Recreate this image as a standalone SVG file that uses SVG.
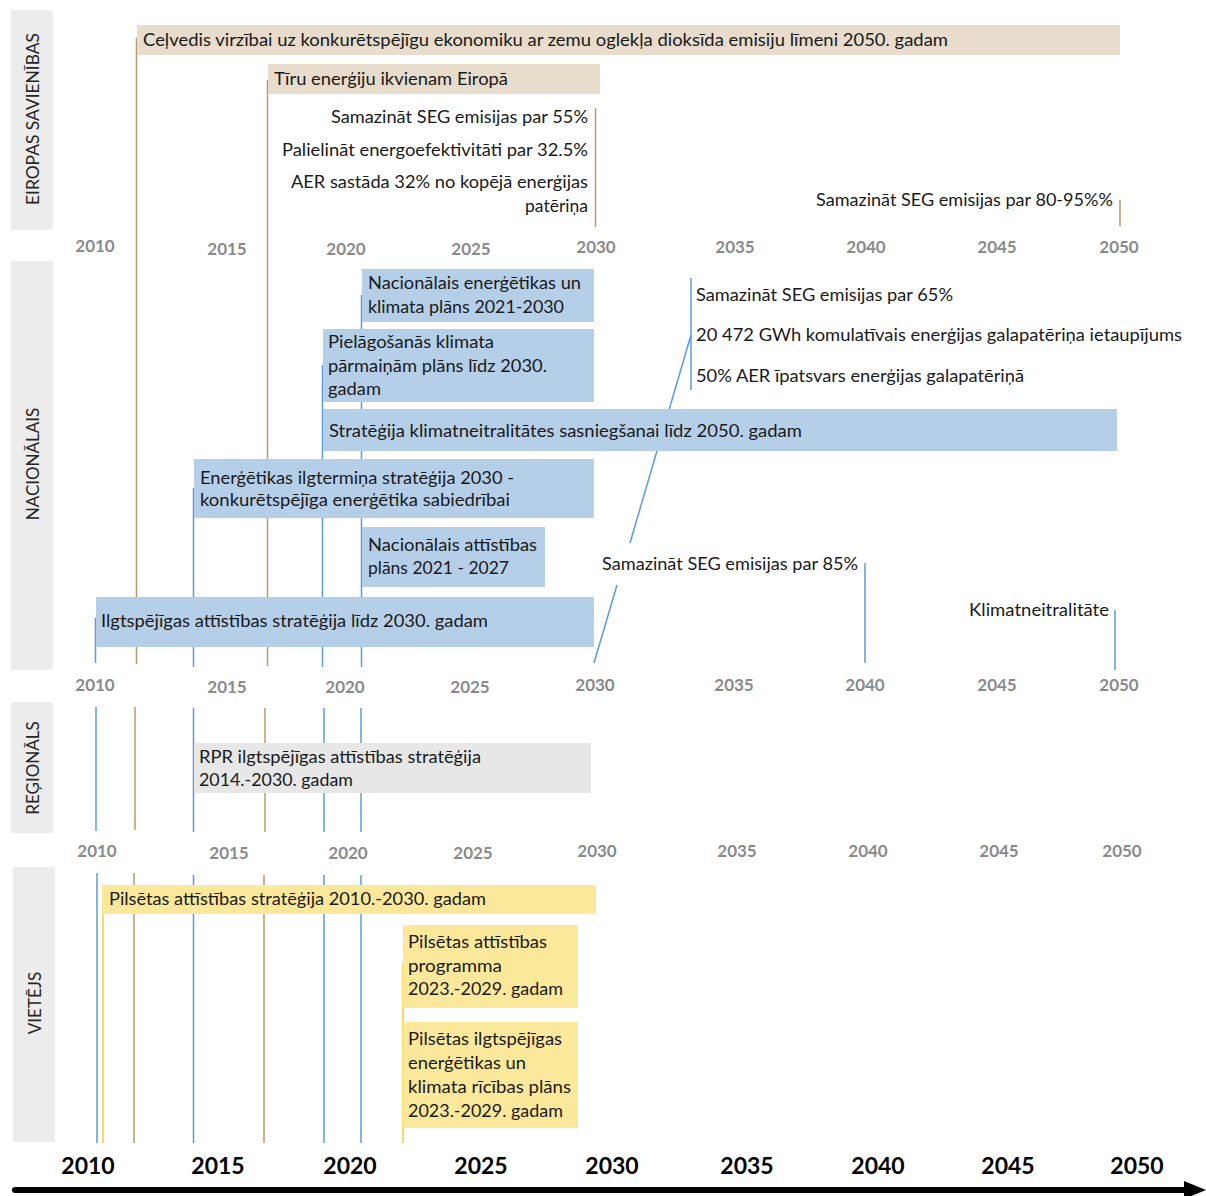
<svg xmlns="http://www.w3.org/2000/svg" width="1206" height="1196" viewBox="0 0 1206 1196">
<style>
.bg{fill:#ffffff}
.lab{fill:#ececec}
.eu{fill:#e8dccd}
.nat{fill:#b5cfe9}
.reg{fill:#e7e7e7}
.loc{fill:#fce89b}
.t{font-family:Lato,"Liberation Sans",sans-serif;font-size:17.5px;fill:#1a1a1a}
.e{text-anchor:end}
.side{font-family:Lato,"Liberation Sans",sans-serif;font-size:17px;fill:#262626;text-anchor:middle}
.yr{font-family:Lato,"Liberation Sans",sans-serif;font-size:17px;font-weight:bold;fill:#8a8a8a;text-anchor:middle}
.yb{font-family:Lato,"Liberation Sans",sans-serif;font-size:23px;font-weight:bold;fill:#000;text-anchor:middle}
.br{stroke:#b89b6e;stroke-width:1.5;fill:none}
.bl{stroke:#5b9bd5;stroke-width:1.5;fill:none}
.yl{stroke:#f0cf3a;stroke-width:1.5;fill:none}
</style>
<rect class="bg" x="0" y="0" width="1206" height="1196"/>

<!-- level labels -->
<g id="level-eu"><rect class="lab" x="11" y="10" width="42" height="220"/><text class="side" transform="translate(39,119) rotate(-90)" textLength="172" lengthAdjust="spacingAndGlyphs">EIROPAS SAVIENĪBAS</text></g>
<g id="level-nat"><rect class="lab" x="11" y="261" width="42" height="409"/><text class="side" transform="translate(39,464) rotate(-90)">NACIONĀLAIS</text></g>
<g id="level-reg"><rect class="lab" x="11" y="702" width="42" height="131"/><text class="side" transform="translate(39,768) rotate(-90)">REĢIONĀLS</text></g>
<g id="level-loc"><rect class="lab" x="13" y="867" width="42" height="275"/><text class="side" transform="translate(41,1003) rotate(-90)">VIETĒJS</text></g>

<!-- connectors -->
<g id="connectors">
  <line class="br" x1="136.5" y1="38" x2="136.5" y2="664"/>
  <line class="br" x1="267.5" y1="80" x2="267.5" y2="666"/>
  <line class="br" x1="595.5" y1="108" x2="595.5" y2="227"/>
  <line class="br" x1="1120" y1="200" x2="1120" y2="226"/>
  <line class="bl" x1="95.5" y1="618" x2="95.5" y2="663"/>
  <line class="bl" x1="193.5" y1="488" x2="193.5" y2="667"/>
  <line class="bl" x1="322.5" y1="365" x2="322.5" y2="667"/>
  <line class="bl" x1="361.5" y1="295" x2="361.5" y2="667"/>
  <line class="bl" x1="691" y1="278" x2="691" y2="390"/>
  <line class="bl" x1="865" y1="563" x2="865" y2="663"/>
  <line class="bl" x1="1115" y1="610" x2="1115" y2="670"/>
  <line class="bl" x1="594" y1="663" x2="617" y2="585"/>
  <line class="bl" x1="630" y1="543" x2="691" y2="335"/>
  <!-- regional -->
  <line class="bl" x1="96" y1="707" x2="96" y2="831"/>
  <line class="br" x1="135" y1="707" x2="135" y2="830"/>
  <line class="bl" x1="193.5" y1="708" x2="193.5" y2="832"/>
  <line class="br" x1="265" y1="708" x2="265" y2="832"/>
  <line class="bl" x1="324" y1="708" x2="324" y2="832"/>
  <line class="bl" x1="361" y1="708" x2="361" y2="832"/>
  <!-- local -->
  <line class="bl" x1="97" y1="873" x2="97" y2="1143"/>
  <line class="yl" x1="103" y1="900" x2="103" y2="1143"/>
  <line class="br" x1="134" y1="873" x2="134" y2="1143"/>
  <line class="bl" x1="193.5" y1="875" x2="193.5" y2="1143"/>
  <line class="br" x1="264" y1="875" x2="264" y2="1143"/>
  <line class="bl" x1="324" y1="875" x2="324" y2="1143"/>
  <line class="bl" x1="361" y1="875" x2="361" y2="1143"/>
  <line class="yl" x1="403" y1="963" x2="403" y2="1143"/>
</g>

<!-- EU nodes -->
<g id="eu-roadmap"><rect class="eu" x="137" y="25" width="983" height="30"/><text class="t" x="143" y="46" textLength="805" lengthAdjust="spacingAndGlyphs">Ceļvedis virzībai uz konkurētspējīgu ekonomiku ar zemu oglekļa dioksīda emisiju līmeni 2050. gadam</text></g>
<g id="eu-clean"><rect class="eu" x="268" y="64" width="332" height="30"/><text class="t" x="274" y="85" textLength="234" lengthAdjust="spacingAndGlyphs">Tīru enerģiju ikvienam Eiropā</text></g>
<g id="eu-2030-targets">
  <text class="t e" x="588" y="123" textLength="257" lengthAdjust="spacingAndGlyphs">Samazināt SEG emisijas par 55%</text>
  <text class="t e" x="588" y="156" textLength="306" lengthAdjust="spacingAndGlyphs">Palielināt energoefektivitāti par 32.5%</text>
  <text class="t e" x="588" y="188" textLength="297" lengthAdjust="spacingAndGlyphs">AER sastāda 32% no kopējā enerģijas</text>
  <text class="t e" x="588" y="212" textLength="63" lengthAdjust="spacingAndGlyphs">patēriņa</text>
</g>
<g id="eu-2050-target"><text class="t e" x="1113" y="206" textLength="297" lengthAdjust="spacingAndGlyphs">Samazināt SEG emisijas par 80-95%%</text></g>

<!-- National nodes -->
<g id="nat-nekp"><rect class="nat" x="362" y="269" width="232" height="53"/>
  <text class="t" x="368" y="289" textLength="213" lengthAdjust="spacingAndGlyphs">Nacionālais enerģētikas un</text>
  <text class="t" x="368" y="313" textLength="196" lengthAdjust="spacingAndGlyphs">klimata plāns 2021-2030</text></g>
<g id="nat-adapt"><rect class="nat" x="323" y="329" width="271" height="73"/>
  <text class="t" x="328" y="348" textLength="166" lengthAdjust="spacingAndGlyphs">Pielāgošanās klimata</text>
  <text class="t" x="328" y="372" textLength="219" lengthAdjust="spacingAndGlyphs">pārmaiņām plāns līdz 2030.</text>
  <text class="t" x="328" y="395" textLength="53" lengthAdjust="spacingAndGlyphs">gadam</text></g>
<g id="nat-neutral"><rect class="nat" x="323" y="409" width="794" height="42"/>
  <text class="t" x="329" y="437" textLength="473" lengthAdjust="spacingAndGlyphs">Stratēģija klimatneitralitātes sasniegšanai līdz 2050. gadam</text></g>
<g id="nat-energy"><rect class="nat" x="194" y="459" width="400" height="59"/>
  <text class="t" x="200" y="484" textLength="314" lengthAdjust="spacingAndGlyphs">Enerģētikas ilgtermiņa stratēģija 2030 -</text>
  <text class="t" x="200" y="506" textLength="310" lengthAdjust="spacingAndGlyphs">konkurētspējīga enerģētika sabiedrībai</text></g>
<g id="nat-ndp"><rect class="nat" x="362" y="527" width="183" height="60"/>
  <text class="t" x="368" y="551" textLength="169" lengthAdjust="spacingAndGlyphs">Nacionālais attīstības</text>
  <text class="t" x="368" y="574" textLength="141" lengthAdjust="spacingAndGlyphs">plāns 2021 - 2027</text></g>
<g id="nat-sustain"><rect class="nat" x="96" y="597" width="498" height="50"/>
  <text class="t" x="101" y="627" textLength="387" lengthAdjust="spacingAndGlyphs">Ilgtspējīgas attīstības stratēģija līdz 2030. gadam</text></g>
<g id="nat-2030-targets">
  <text class="t" x="696" y="301" textLength="257" lengthAdjust="spacingAndGlyphs">Samazināt SEG emisijas par 65%</text>
  <text class="t" x="696" y="341" textLength="486" lengthAdjust="spacingAndGlyphs">20 472 GWh komulatīvais enerģijas galapatēriņa ietaupījums</text>
  <text class="t" x="696" y="382" textLength="328" lengthAdjust="spacingAndGlyphs">50% AER īpatsvars enerģijas galapatēriņā</text></g>
<g id="nat-2040-target"><text class="t" x="602" y="570" textLength="256" lengthAdjust="spacingAndGlyphs">Samazināt SEG emisijas par 85%</text></g>
<g id="nat-2050-target"><text class="t e" x="1109" y="616" textLength="140" lengthAdjust="spacingAndGlyphs">Klimatneitralitāte</text></g>

<!-- Regional -->
<g id="reg-rpr"><rect class="reg" x="194" y="743" width="397" height="50"/>
  <text class="t" x="199" y="763" textLength="282" lengthAdjust="spacingAndGlyphs">RPR ilgtspējīgas attīstības stratēģija</text>
  <text class="t" x="199" y="786" textLength="154" lengthAdjust="spacingAndGlyphs">2014.-2030. gadam</text></g>

<!-- Local -->
<g id="loc-strategy"><rect class="loc" x="102" y="885" width="494" height="29"/>
  <text class="t" x="109" y="905" textLength="377" lengthAdjust="spacingAndGlyphs">Pilsētas attīstības stratēģija 2010.-2030. gadam</text></g>
<g id="loc-programme"><rect class="loc" x="403" y="925" width="175" height="83"/>
  <text class="t" x="408" y="948" textLength="139" lengthAdjust="spacingAndGlyphs">Pilsētas attīstības</text>
  <text class="t" x="408" y="972" textLength="94" lengthAdjust="spacingAndGlyphs">programma</text>
  <text class="t" x="408" y="995" textLength="155" lengthAdjust="spacingAndGlyphs">2023.-2029. gadam</text></g>
<g id="loc-secap"><rect class="loc" x="403" y="1022" width="175" height="106"/>
  <text class="t" x="408" y="1045" textLength="154" lengthAdjust="spacingAndGlyphs">Pilsētas ilgtspējīgas</text>
  <text class="t" x="408" y="1069" textLength="118" lengthAdjust="spacingAndGlyphs">enerģētikas un</text>
  <text class="t" x="408" y="1093" textLength="163" lengthAdjust="spacingAndGlyphs">klimata rīcības plāns</text>
  <text class="t" x="408" y="1117" textLength="155" lengthAdjust="spacingAndGlyphs">2023.-2029. gadam</text></g>

<!-- year rows -->
<g id="years-eu">
  <text class="yr" x="95" y="252">2010</text><text class="yr" x="227" y="255">2015</text><text class="yr" x="346" y="255">2020</text><text class="yr" x="471" y="255">2025</text><text class="yr" x="596" y="253">2030</text><text class="yr" x="735" y="253">2035</text><text class="yr" x="866" y="253">2040</text><text class="yr" x="997" y="253">2045</text><text class="yr" x="1119" y="253">2050</text>
</g>
<g id="years-nat">
  <text class="yr" x="95" y="691">2010</text><text class="yr" x="227" y="693">2015</text><text class="yr" x="345" y="693">2020</text><text class="yr" x="470" y="693">2025</text><text class="yr" x="595" y="691">2030</text><text class="yr" x="734" y="691">2035</text><text class="yr" x="865" y="691">2040</text><text class="yr" x="997" y="691">2045</text><text class="yr" x="1119" y="691">2050</text>
</g>
<g id="years-reg">
  <text class="yr" x="97" y="857">2010</text><text class="yr" x="229" y="859">2015</text><text class="yr" x="348" y="859">2020</text><text class="yr" x="473" y="859">2025</text><text class="yr" x="597" y="857">2030</text><text class="yr" x="737" y="857">2035</text><text class="yr" x="868" y="857">2040</text><text class="yr" x="999" y="857">2045</text><text class="yr" x="1122" y="857">2050</text>
</g>
<g id="years-main">
  <text class="yb" x="88" y="1174">2010</text><text class="yb" x="218" y="1174">2015</text><text class="yb" x="350" y="1174">2020</text><text class="yb" x="481" y="1174">2025</text><text class="yb" x="612" y="1174">2030</text><text class="yb" x="747" y="1174">2035</text><text class="yb" x="878" y="1174">2040</text><text class="yb" x="1008" y="1174">2045</text><text class="yb" x="1137" y="1174">2050</text>
</g>
<g id="time-arrow">
  <line x1="15" y1="1190" x2="1190" y2="1190" stroke="#000" stroke-width="6" stroke-linecap="round"/>
  <polygon points="1184,1181 1206,1190 1184,1199" fill="#000"/>
</g>
</svg>
